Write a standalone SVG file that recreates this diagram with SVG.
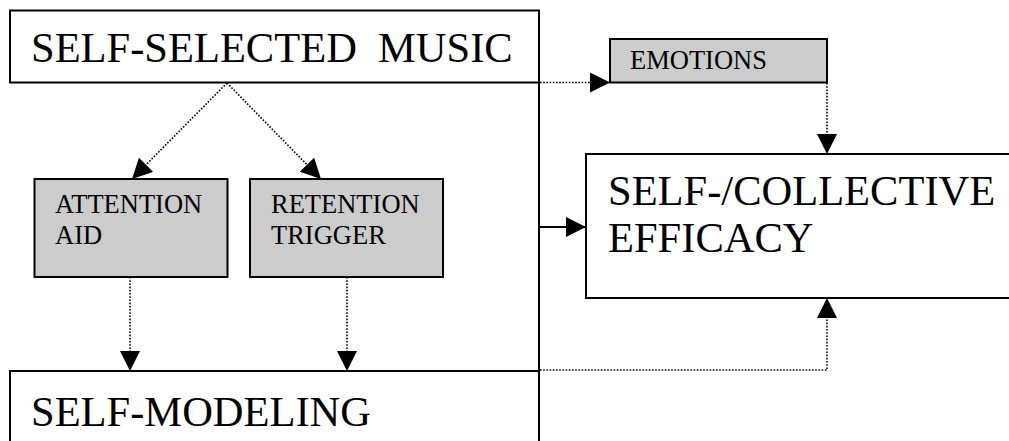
<svg xmlns="http://www.w3.org/2000/svg" width="1009" height="441" viewBox="0 0 1009 441">
<defs>
<marker id="ah" markerUnits="userSpaceOnUse" markerWidth="20" markerHeight="20" refX="20" refY="10" orient="auto" viewBox="0 0 20 20">
<path d="M0,0 L20,10 L0,20 z" fill="#000"/>
</marker>
<style>
.box{fill:#fff;stroke:#000;stroke-width:2}
.gbox{fill:#cccccc;stroke:#000;stroke-width:2}
.big{font-family:"Liberation Serif","Times New Roman",serif;font-size:42.5px;fill:#000}
.small{font-family:"Liberation Serif","Times New Roman",serif;font-size:26.5px;fill:#000}
.dot{fill:none;stroke:#000;stroke-width:1.6;stroke-dasharray:1.6 1.6}
.solid{fill:none;stroke:#000;stroke-width:2}
</style>
</defs>
<rect width="1009" height="441" fill="#fff"/>
<g id="self-selected-music">
<rect class="box" x="10" y="10.5" width="529" height="72"/>
<text class="big" x="31" y="62" xml:space="preserve">SELF-SELECTED  MUSIC</text>
</g>
<g id="emotions">
<rect class="gbox" x="610" y="39" width="217" height="43.5"/>
<text class="small" x="630" y="69">EMOTIONS</text>
</g>
<g id="attention-aid">
<rect class="gbox" x="34.5" y="179" width="193" height="98"/>
<text class="small" x="55" y="213">ATTENTION</text>
<text class="small" x="55" y="244">AID</text>
</g>
<g id="retention-trigger">
<rect class="gbox" x="250" y="179" width="193" height="98"/>
<text class="small" x="271" y="213">RETENTION</text>
<text class="small" x="271" y="244">TRIGGER</text>
</g>
<g id="self-collective-efficacy">
<rect class="box" x="586" y="154" width="500" height="144"/>
<text class="big" x="608" y="205">SELF-/COLLECTIVE</text>
<text class="big" x="608" y="252">EFFICACY</text>
</g>
<g id="self-modeling">
<rect class="box" x="10" y="371" width="529" height="100"/>
<text class="big" x="31" y="426">SELF-MODELING</text>
</g>
<g id="connectors">
<line class="solid" x1="539" y1="10" x2="539" y2="441"/>
<line class="dot" x1="227" y1="83" x2="132" y2="179" marker-end="url(#ah)"/>
<line class="dot" x1="227" y1="83" x2="321" y2="179" marker-end="url(#ah)"/>
<line class="dot" x1="130" y1="277" x2="130" y2="371" marker-end="url(#ah)"/>
<line class="dot" x1="347" y1="277" x2="347" y2="371" marker-end="url(#ah)"/>
<line class="dot" x1="540" y1="82.5" x2="610" y2="82.5" marker-end="url(#ah)"/>
<line class="dot" x1="827" y1="83" x2="827" y2="154" marker-end="url(#ah)"/>
<line class="solid" x1="540" y1="227" x2="586" y2="227" marker-end="url(#ah)"/>
<polyline class="dot" points="540,370 827,370 827,298" marker-end="url(#ah)"/>
</g>
</svg>
